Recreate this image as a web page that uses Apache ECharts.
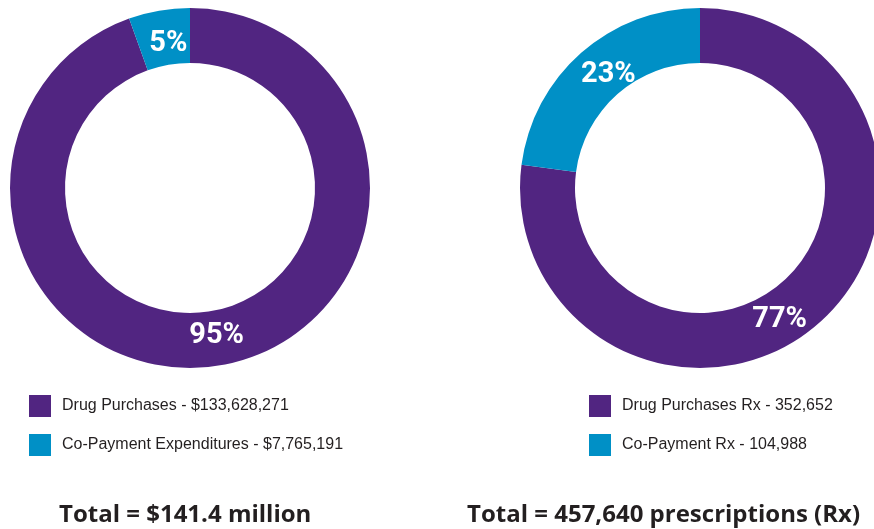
<!DOCTYPE html>
<html>
<head>
<meta charset="utf-8">
<script src="https://cdn.jsdelivr.net/npm/echarts@6/dist/echarts.min.js"></script>
<style>
  html, body { margin: 0; padding: 0; background: #fff; }
  #main { width: 874px; height: 529px; }
</style>
</head>
<body>
<div id="main"></div>
<script>
// left donut: dollars
const costNames = ['Drug Purchases', 'Co-Payment Expenditures'];
const costValues = [133628271, 7765191];
const costLabels = ['95%', '5%'];
const costTotal = 'Total = $141.4 million';

// right donut: prescriptions
const rxNames = ['Drug Purchases Rx', 'Co-Payment Rx'];
const rxValues = [352652, 104988];
const rxLabels = ['77%', '23%'];
const rxTotal = 'Total = 457,640 prescriptions (Rx)';

const colors = ['#512581', '#0090C6'];
const textColor = '#231F20';
const pctFont = '"Liberation Sans Narrow", "Arial Narrow", Roboto, sans-serif';

// nudges so the % labels sit where the original artwork put them [dx, dy]
const costNudge = [[0, -5], [5, 9]];
const rxNudge = [[-23, 15], [11, 4]];

const fmtMoney = v => '$' + v.toLocaleString('en-US');
const fmtCount = v => v.toLocaleString('en-US');

function donut(center, names, values, labels, nudge) {
    return {
        type: 'pie',
        center: center,
        radius: [125, 180],
        startAngle: 90,
        clockwise: true,
        silent: true,
        avoidLabelOverlap: false,
        label: {
            show: true,
            position: 'inside',
            color: '#fff',
            fontFamily: pctFont,
            fontWeight: 'bold',
            fontSize: 29,
            formatter: p => labels[p.dataIndex]
        },
        labelLine: { show: false },
        labelLayout: p => ({ dx: nudge[p.dataIndex][0], dy: nudge[p.dataIndex][1] }),
        data: names.map((n, i) => ({
            name: n,
            value: values[i],
            itemStyle: { color: colors[i] }
        }))
    };
}

function legend(left, names, values, fmt) {
    return {
        left: left,
        top: 395,
        padding: 0,
        orient: 'vertical',
        icon: 'rect',
        itemWidth: 22,
        itemHeight: 22,
        itemGap: 17,
        selectedMode: false,
        data: names,
        textStyle: {
            fontFamily: '"Liberation Sans", Arial, sans-serif',
            fontSize: 16,
            color: textColor,
            padding: [0, 0, 0, 6]
        },
        formatter: n => n + ' - ' + fmt(values[names.indexOf(n)])
    };
}

function total(text, left) {
    return {
        text: text,
        left: left,
        top: 503,
        padding: 0,
        textStyle: {
            fontFamily: '"Open Sans", "Liberation Sans", sans-serif',
            fontWeight: 'bold',
            fontSize: 24,
            color: textColor
        }
    };
}

const option = {
    backgroundColor: '#fff',
    animation: false,
    color: colors,
    title: [
        total(costTotal, 59),
        total(rxTotal, 467)
    ],
    legend: [
        legend(29, costNames, costValues, fmtMoney),
        legend(589, rxNames, rxValues, fmtCount)
    ],
    series: [
        donut([190, 188], costNames, costValues, costLabels, costNudge),
        donut([700, 188], rxNames, rxValues, rxLabels, rxNudge)
    ]
};

const myChart = echarts.init(document.getElementById('main'));
myChart.setOption(option);
</script>
</body>
</html>
